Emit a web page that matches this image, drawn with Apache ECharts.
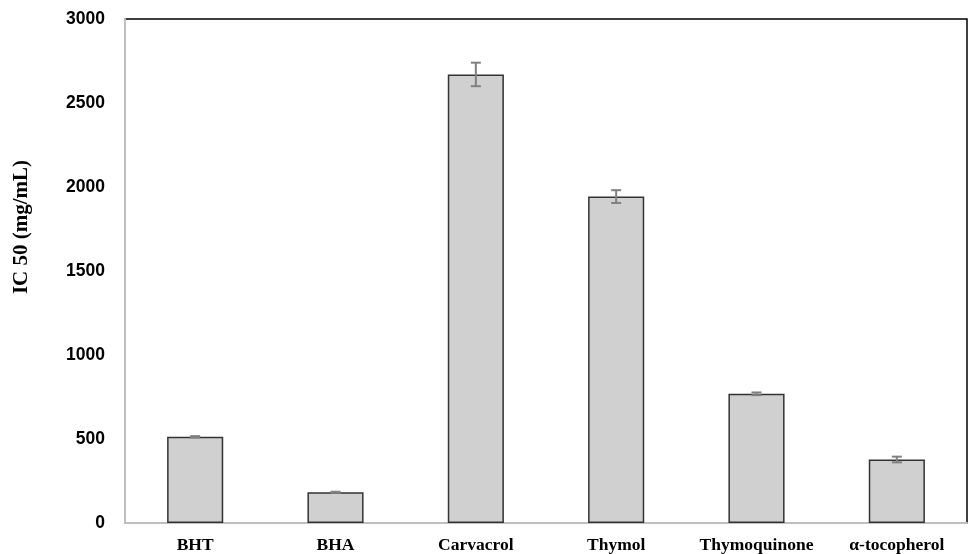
<!DOCTYPE html>
<html>
<head>
<meta charset="utf-8">
<script src="https://cdn.jsdelivr.net/npm/echarts@6/dist/echarts.min.js"></script>
<style>html,body{margin:0;padding:0;background:#fff;}#c{width:970px;height:554px;}</style>
</head>
<body>
<div id="c"></div>
<script>
const categories = ['BHT', 'BHA', 'Carvacrol', 'Thymol', 'Thymoquinone', 'α-tocopherol'];
const values = [513, 183, 2670, 1943, 769, 378];
const errors = [4, 3, 70, 38, 8, 17];
const yTicks = [0, 500, 1000, 1500, 2000, 2500, 3000];
const yTitle = 'IC 50 (mg/mL)';

const chart = echarts.init(document.getElementById('c'));
const errData = categories.map((c, i) => [i, values[i] - errors[i], values[i] + errors[i]]);
chart.setOption({
  animation: false,
  grid: { left: 125, right: 3, top: 19, bottom: 31, show: true, borderColor: '#000', borderWidth: 1.5, containLabel: false },
  graphic: [{
    type: 'text',
    x: 22, y: 227,
    rotation: Math.PI / 2,
    style: { text: yTitle, font: 'bold 21px "Liberation Serif"', fill: '#000', align: 'center', verticalAlign: 'middle' }
  }],
  xAxis: {
    type: 'category',
    data: categories,
    axisLine: { lineStyle: { color: '#bfbfbf', width: 2 } },
    axisTick: { show: false },
    axisLabel: { interval: 0, hideOverlap: false, fontFamily: 'Liberation Serif', fontWeight: 'bold', fontSize: 17.5, color: '#000', margin: 13 }
  },
  yAxis: {
    type: 'value',
    min: yTicks[0], max: yTicks[yTicks.length - 1], interval: 500,
    axisLine: { show: true, lineStyle: { color: '#bfbfbf', width: 2 } },
    axisTick: { show: false },
    splitLine: { show: false },
    axisLabel: { fontFamily: 'Liberation Sans', fontWeight: 'bold', fontSize: 17.5, color: '#000', margin: 20, formatter: v => String(v) }
  },
  series: [
    {
      type: 'bar',
      data: values,
      barWidth: '40%',
      itemStyle: { color: '#d0d0d0', borderColor: '#333', borderWidth: 1.5 }
    },
    {
      type: 'custom',
      data: errData,
      z: 10,
      renderItem: function (params, api) {
        const x = api.value(0);
        const lo = api.coord([x, api.value(1)]);
        const hi = api.coord([x, api.value(2)]);
        const hw = 5;
        const style = { stroke: '#808080', lineWidth: 2, fill: null };
        return {
          type: 'group',
          children: [
            { type: 'line', shape: { x1: lo[0], y1: lo[1], x2: hi[0], y2: hi[1] }, style: style },
            { type: 'line', shape: { x1: lo[0] - hw, y1: lo[1], x2: lo[0] + hw, y2: lo[1] }, style: style },
            { type: 'line', shape: { x1: hi[0] - hw, y1: hi[1], x2: hi[0] + hw, y2: hi[1] }, style: style }
          ]
        };
      }
    }
  ]
});
</script>
</body>
</html>
